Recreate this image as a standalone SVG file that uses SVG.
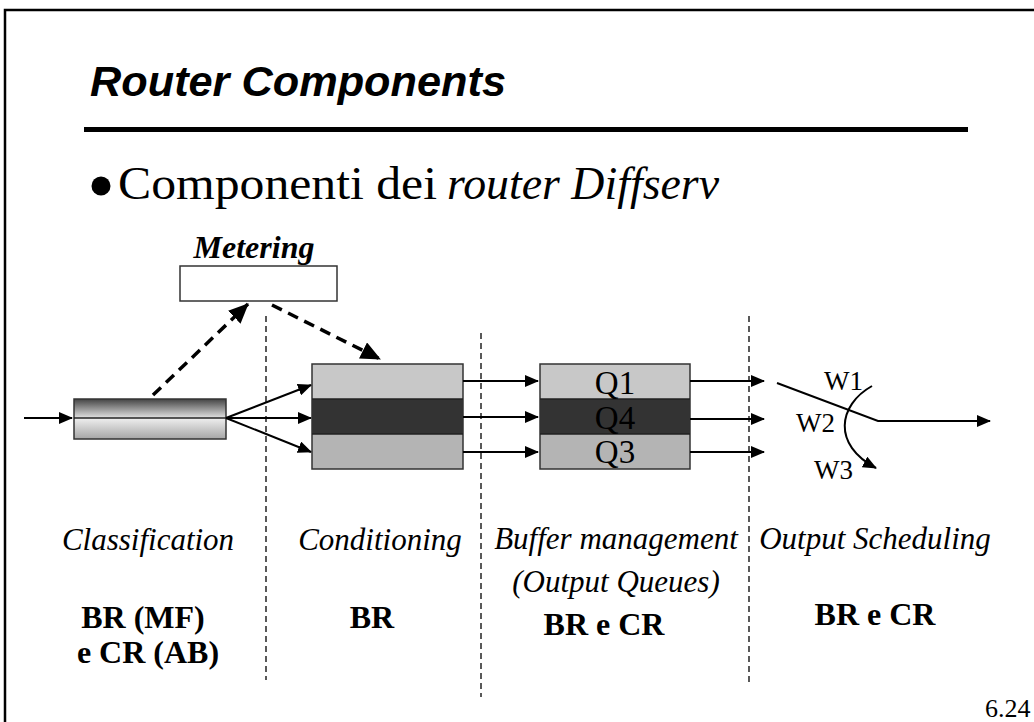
<svg xmlns="http://www.w3.org/2000/svg" width="1034" height="722" viewBox="0 0 1034 722">
<style>
.ser{font-family:"Liberation Serif","Times New Roman",serif;fill:#000}
.it{font-style:italic}
.bd{font-weight:bold}
.lab{font-size:31px;text-anchor:middle}
.bl{font-size:32px;font-weight:bold;text-anchor:middle}
.box{stroke:#333;stroke-width:1.5}
.sol{stroke:#000;stroke-width:2;fill:none}
.vdash{stroke:#000;stroke-width:1.3;stroke-dasharray:6 4;fill:none}
.mdash{stroke:#000;stroke-width:3.5;stroke-dasharray:11 7;fill:none}
</style>
<defs>
<marker id="ah" markerUnits="userSpaceOnUse" markerWidth="14" markerHeight="12" refX="13" refY="6" orient="auto">
<path d="M0,0 L14,6 L0,12 Z" fill="#000"/>
</marker>
<marker id="ahb" markerUnits="userSpaceOnUse" markerWidth="20" markerHeight="18" refX="19" refY="9" orient="auto">
<path d="M0,0 L20,9 L0,18 Z" fill="#000"/>
</marker>
<linearGradient id="gTop" x1="0" y1="0" x2="0" y2="1">
<stop offset="0" stop-color="#444"/>
<stop offset="1" stop-color="#e2e2e2"/>
</linearGradient>
<linearGradient id="gBot" x1="0" y1="0" x2="0" y2="1">
<stop offset="0" stop-color="#efefef"/>
<stop offset="1" stop-color="#a6a6a6"/>
</linearGradient>
</defs>

<g id="frame">
<path d="M5,722 V10 H1034" fill="none" stroke="#000" stroke-width="2.5"/>
</g>

<g id="title">
<text x="90" y="96" font-family="'Liberation Sans',Arial,sans-serif" font-size="42" font-weight="bold" font-style="italic" textLength="416" lengthAdjust="spacingAndGlyphs">Router Components</text>
<rect x="84" y="127" width="884" height="5" fill="#000"/>
</g>

<g id="bullet">
<circle cx="101" cy="186" r="9.5" fill="#000"/>
<text class="ser" x="118" y="199" font-size="46" textLength="319" lengthAdjust="spacingAndGlyphs">Componenti dei</text>
<text class="ser it" x="447" y="199" font-size="46" textLength="272" lengthAdjust="spacingAndGlyphs">router Diffserv</text>
</g>

<g id="dividers">
<line class="vdash" x1="266" y1="316" x2="266" y2="680"/>
<line class="vdash" x1="481" y1="333" x2="481" y2="697"/>
<line class="vdash" x1="749" y1="316" x2="749" y2="683"/>
</g>

<g id="metering">
<text class="ser it bd" x="254" y="258" font-size="32" text-anchor="middle">Metering</text>
<rect class="box" x="180" y="266" width="157" height="35" fill="#fff"/>
</g>

<g id="classifier">
<rect x="74" y="399" width="152" height="19" fill="url(#gTop)"/>
<rect x="74" y="418" width="152" height="21" fill="url(#gBot)"/>
<rect class="box" x="74" y="399" width="152" height="40" fill="none"/>
<line x1="74" y1="418" x2="226" y2="418" stroke="#222" stroke-width="1.5"/>
</g>

<g id="conditioner">
<rect x="312" y="364" width="151" height="35" fill="#c8c8c8"/>
<rect x="312" y="399" width="151" height="35" fill="#333"/>
<rect x="312" y="434" width="151" height="35" fill="#b4b4b4"/>
<rect class="box" x="312" y="364" width="151" height="105" fill="none"/>
<line x1="312" y1="399" x2="463" y2="399" stroke="#222" stroke-width="1.5"/>
<line x1="312" y1="434" x2="463" y2="434" stroke="#222" stroke-width="1.5"/>
</g>

<g id="queues">
<rect x="540" y="364" width="150" height="35" fill="#c8c8c8"/>
<rect x="540" y="399" width="150" height="35" fill="#333"/>
<rect x="540" y="434" width="150" height="35" fill="#b4b4b4"/>
<rect class="box" x="540" y="364" width="150" height="105" fill="none"/>
<line x1="540" y1="399" x2="690" y2="399" stroke="#222" stroke-width="1.5"/>
<line x1="540" y1="434" x2="690" y2="434" stroke="#222" stroke-width="1.5"/>
<text class="ser" x="615" y="394" font-size="33" text-anchor="middle">Q1</text>
<text class="ser" x="615" y="429" font-size="33" text-anchor="middle">Q4</text>
<text class="ser" x="615" y="463" font-size="33" text-anchor="middle">Q3</text>
</g>

<g id="scheduler">
<text class="ser" x="824" y="390" font-size="27">W1</text>
<text class="ser" x="796" y="432" font-size="27">W2</text>
<text class="ser" x="814" y="479" font-size="27">W3</text>
</g>

<g id="connectors">
<line class="mdash" x1="153" y1="395" x2="248" y2="304" marker-end="url(#ahb)"/>
<line class="mdash" x1="272" y1="305" x2="380" y2="359" marker-end="url(#ahb)"/>
<line class="sol" x1="24" y1="418" x2="72" y2="418" marker-end="url(#ah)"/>
<line class="sol" x1="226" y1="418" x2="311" y2="385" marker-end="url(#ah)"/>
<line class="sol" x1="226" y1="418" x2="311" y2="418" marker-end="url(#ah)"/>
<line class="sol" x1="226" y1="418" x2="311" y2="452" marker-end="url(#ah)"/>
<line class="sol" x1="463" y1="381" x2="538" y2="381" marker-end="url(#ah)"/>
<line class="sol" x1="463" y1="417" x2="538" y2="417" marker-end="url(#ah)"/>
<line class="sol" x1="463" y1="452" x2="538" y2="452" marker-end="url(#ah)"/>
<line class="sol" x1="690" y1="381" x2="764" y2="381" marker-end="url(#ah)"/>
<line class="sol" x1="690" y1="419" x2="764" y2="419" marker-end="url(#ah)"/>
<line class="sol" x1="690" y1="452" x2="764" y2="452" marker-end="url(#ah)"/>
<polyline class="sol" points="777,383 878,421 990,421" marker-end="url(#ah)"/>
<path class="sol" d="M872,386 C838,405 832,445 876,468" marker-end="url(#ah)"/>
</g>

<g id="labels">
<text class="ser it lab" x="148" y="550">Classification</text>
<text class="ser it lab" x="380" y="550">Conditioning</text>
<text class="ser it lab" x="616" y="549">Buffer management</text>
<text class="ser it lab" x="616" y="592">(Output Queues)</text>
<text class="ser it lab" x="875" y="549">Output Scheduling</text>
<text class="ser bl" x="143" y="628">BR (MF)</text>
<text class="ser bl" x="148" y="663">e CR (AB)</text>
<text class="ser bl" x="372" y="628">BR</text>
<text class="ser bl" x="604" y="635">BR e CR</text>
<text class="ser bl" x="875" y="625">BR e CR</text>
<text class="ser" x="985" y="717" font-size="26">6.24</text>
</g>
</svg>
